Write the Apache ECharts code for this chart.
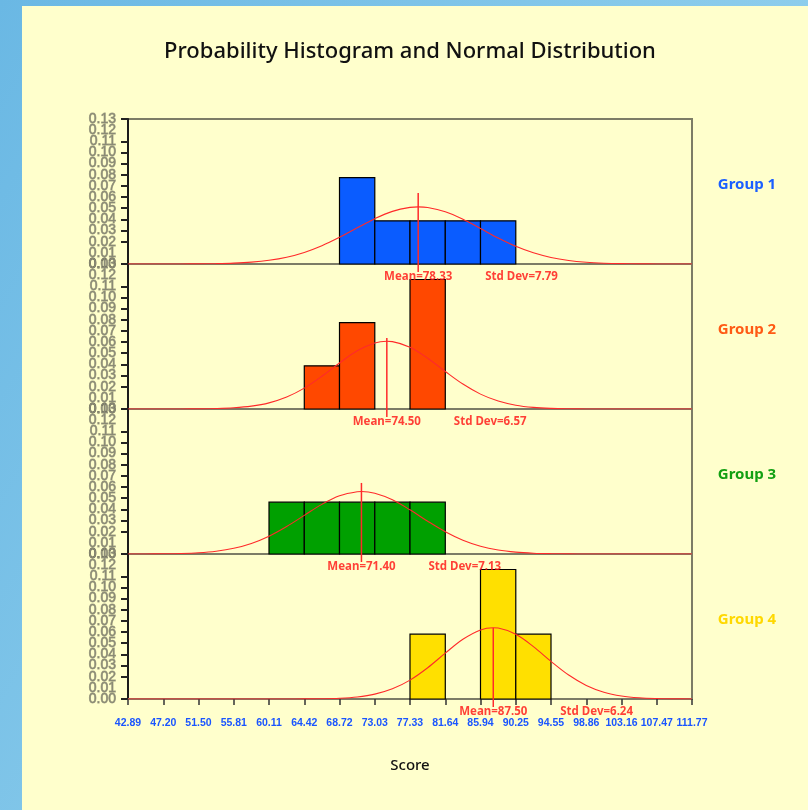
<!DOCTYPE html>
<html>
<head>
<meta charset="utf-8">
<script src="https://cdn.jsdelivr.net/npm/echarts@6/dist/echarts.min.js"></script>
<style>
html,body{margin:0;padding:0;width:808px;height:810px;overflow:hidden;}
body{background:linear-gradient(120deg,#6ab8e4 0%,#86c9ea 50%,#9ed6f1 100%);}
#panel{position:absolute;left:22px;top:6px;width:786px;height:804px;background:#ffffcc;}
#chart{position:absolute;left:0;top:0;width:808px;height:810px;}
</style>
</head>
<body>
<div id="panel"></div>
<div id="chart"></div>
<script>
// ---- data ----
const titleText = 'Probability Histogram and Normal Distribution';
const xName = 'Score';
const groups = ['Group 1', 'Group 2', 'Group 3', 'Group 4'];
const tickValues = [42.89, 47.20, 51.50, 55.81, 60.11, 64.42, 68.72, 73.03, 77.33, 81.64, 85.94, 90.25, 94.55, 98.86, 103.16, 107.47, 111.77];
const means = [78.33, 74.50, 71.40, 87.50];
const stdDevs = [7.79, 6.57, 7.13, 6.24];
// histogram densities per bin (bin j spans tickValues[j]..tickValues[j+1])
const bins1 = [0, 0, 0, 0, 0, 0, 0.0774, 0.0387, 0.0387, 0.0387, 0.0387, 0, 0, 0, 0, 0];
const bins2 = [0, 0, 0, 0, 0, 0.0387, 0.0774, 0, 0.1161, 0, 0, 0, 0, 0, 0, 0];
const bins3 = [0, 0, 0, 0, 0.0465, 0.0465, 0.0465, 0.0465, 0.0465, 0, 0, 0, 0, 0, 0, 0];
const bins4 = [0, 0, 0, 0, 0, 0, 0, 0, 0.0581, 0, 0.1161, 0.0581, 0, 0, 0, 0];
// normal curve samples (x positions shared, y read per group)
const curveX = [42.89, 45.04, 47.20, 49.35, 51.50, 53.65, 55.81, 57.96, 60.11, 62.27, 64.42, 66.57, 68.72, 70.88, 73.03, 75.18, 77.33, 79.49, 81.64, 83.79, 85.94, 88.10, 90.25, 92.40, 94.55, 96.71, 98.86, 101.01, 103.16, 105.32, 107.47, 109.62, 111.77];
const curve1 = [0.000002, 0.000006, 0.000017, 0.000051, 0.000136, 0.000339, 0.000784, 0.001676, 0.003324, 0.006115, 0.0104, 0.01638, 0.02393, 0.03243, 0.04063, 0.04719, 0.05079, 0.05065, 0.04679, 0.04006, 0.03178, 0.02333, 0.01589, 0.01002, 0.005863, 0.00317, 0.001591, 0.000739, 0.000318, 0.000127, 0.000047, 0.000016, 0.000005];
const curve2 = [0, 0.000003, 0.000011, 0.00004, 0.000132, 0.000395, 0.001061, 0.002556, 0.00552, 0.01073, 0.01871, 0.02931, 0.04123, 0.05217, 0.05922, 0.0604, 0.05534, 0.04551, 0.03364, 0.02235, 0.01334, 0.00713, 0.00343, 0.001483, 0.000577, 0.0002, 0.000063, 0.000018, 0.000005, 0, 0, 0, 0];
const curve3 = [0.000019, 0.00006, 0.000176, 0.000468, 0.001138, 0.002526, 0.005124, 0.009466, 0.01598, 0.02465, 0.03465, 0.04448, 0.05213, 0.0558, 0.05451, 0.04862, 0.03959, 0.0294, 0.01995, 0.01237, 0.006995, 0.003605, 0.001698, 0.000731, 0.000288, 0.000103, 0.000034, 0.00001, 0, 0, 0, 0, 0];
const curve4 = [0, 0, 0, 0, 0, 0, 0, 0, 0.000004, 0.000018, 0.000068, 0.00023, 0.00069, 0.001842, 0.004343, 0.009104, 0.01694, 0.02805, 0.04113, 0.05357, 0.06196, 0.06364, 0.05802, 0.04697, 0.03377, 0.02151, 0.01219, 0.006131, 0.002743, 0.001083, 0.000382, 0.00012, 0.000033];
const peaks = [0.0512, 0.0607, 0.0560, 0.0639];
const yTickValues = [0.00, 0.01, 0.02, 0.03, 0.04, 0.05, 0.06, 0.07, 0.08, 0.09, 0.10, 0.11, 0.12, 0.13];

// ---- styling ----
const binsAll = [bins1, bins2, bins3, bins4];
const curvesAll = [curve1, curve2, curve3, curve4];
const barColors = ['#0a5cff', '#ff4800', '#00a000', '#ffe000'];
const labelColors = ['#1a5fff', '#ff5a14', '#12a012', '#ffd800'];
const gridLeft = 128, gridWidth = 564, gridTop0 = 119, gridH = 145;
const NARROW = '"Liberation Sans Narrow","Arial Narrow","Liberation Sans",sans-serif';
const yMin = yTickValues[0], yMax = yTickValues[yTickValues.length - 1];
const yLabelStyle = {margin: 12, color: '#8a8a76', fontSize: 14, fontFamily: NARROW,
  textBorderColor: 'rgba(50,50,40,0.45)', textBorderWidth: 0.8};

const chart = echarts.init(document.getElementById('chart'), null, {renderer: 'canvas'});

const grids = [], xAxes = [], yAxes = [], series = [], graphics = [];
groups.forEach((g, i) => {
  const last = i === groups.length - 1;
  grids.push({left: gridLeft, top: gridTop0 + i * gridH, width: gridWidth, height: gridH,
    show: true, borderColor: '#7c7c66', borderWidth: 2, backgroundColor: 'transparent', containLabel: false});
  xAxes.push({
    type: 'value', gridIndex: i, min: tickValues[0], max: tickValues[tickValues.length - 1],
    axisLine: {show: last, onZero: false, lineStyle: {color: '#7c7c66', width: 2}},
    axisTick: {show: last, customValues: tickValues, length: 6, lineStyle: {color: '#333', width: 1.5}},
    axisLabel: {show: last, customValues: tickValues, margin: 19, showMinLabel: true, showMaxLabel: true,
      formatter: v => v.toFixed(2), color: '#1a55ff', fontWeight: 'bold', fontSize: 10.5, fontFamily: NARROW},
    splitLine: {show: false}
  });
  const yIdx = yAxes.length;
  // main y axis: line, ticks, and most labels (incl. 0.00 and 0.13)
  yAxes.push({
    type: 'value', gridIndex: i, position: 'left', min: yMin, max: yMax, interval: 0.01,
    axisLine: {show: true, onZero: false, lineStyle: {color: '#1a1a1a', width: 2}},
    axisTick: {show: true, length: 7, lineStyle: {color: '#222', width: 2}},
    axisLabel: Object.assign({show: true, showMinLabel: true, showMaxLabel: true,
      formatter: v => v.toFixed(2)}, yLabelStyle),
    splitLine: {show: false}
  });
  // companion axis (same place) to show the labels next to min/max that ECharts hides
  yAxes.push({
    type: 'value', gridIndex: i, position: 'left', offset: 0, min: yMin, max: yMax, interval: 0.01,
    axisLine: {show: false}, axisTick: {show: false}, splitLine: {show: false},
    axisLabel: Object.assign({show: true, showMinLabel: false, showMaxLabel: false,
      formatter: v => (Math.abs(v - yTickValues[1]) < 1e-6 || Math.abs(v - yTickValues[yTickValues.length - 2]) < 1e-6) ? v.toFixed(2) : ''},
      yLabelStyle)
  });
  // histogram bars
  const barData = [];
  binsAll[i].forEach((v, j) => { if (v > 0) barData.push([tickValues[j], tickValues[j + 1], v]); });
  series.push({
    type: 'custom', xAxisIndex: i, yAxisIndex: yIdx, z: 2,
    data: barData, encode: {x: [0, 1], y: 2},
    renderItem: (params, api) => {
      const p0 = api.coord([api.value(0), api.value(2)]);
      const p1 = api.coord([api.value(1), 0]);
      return {type: 'rect', shape: {x: p0[0], y: p0[1], width: p1[0] - p0[0], height: p1[1] - p0[1]},
        style: {fill: barColors[i], stroke: '#000', lineWidth: 1.2}};
    }
  });
  // normal curve
  const pts = curveX.map((x, k) => [x, curvesAll[i][k]]);
  pts.push([means[i], peaks[i]]);
  pts.sort((a, b) => a[0] - b[0]);
  series.push({
    type: 'line', xAxisIndex: i, yAxisIndex: yIdx, z: 3, data: pts, smooth: 0.35,
    showSymbol: false, symbol: 'none', lineStyle: {color: '#ff2a2a', width: 1.1}, silent: true
  });
  // mean line
  series.push({
    type: 'line', xAxisIndex: i, yAxisIndex: yIdx, z: 4, clip: false,
    data: [[means[i], 0.0637], [means[i], -0.0072]],
    showSymbol: false, symbol: 'none', lineStyle: {color: '#ff2a2a', width: 1.5}, silent: true
  });
  // labels
  series.push({
    type: 'scatter', xAxisIndex: i, yAxisIndex: yIdx, z: 5, clip: false, symbolSize: 1,
    itemStyle: {color: 'rgba(0,0,0,0)'}, silent: true,
    data: [
      {value: [means[i], 0], label: {show: true, position: 'bottom', distance: 6,
        formatter: 'Mean=' + means[i].toFixed(2)}},
      {value: [means[i], 0], label: {show: true, position: 'bottom', distance: 6, align: 'left', offset: [67, 0],
        formatter: 'Std Dev=' + stdDevs[i].toFixed(2)}}
    ],
    label: {color: '#ff1010', fontSize: 11.5, fontWeight: 'bold', fontFamily: '"Noto Sans",sans-serif'}
  });
  graphics.push({type: 'text', style: {text: g, x: 747, y: 185 + i * gridH, align: 'center', verticalAlign: 'middle',
    fill: labelColors[i], font: 'bold 15px "Noto Sans", sans-serif'}});
});

graphics.push({type: 'text', style: {text: titleText, x: 410, y: 52, align: 'center', verticalAlign: 'middle',
  fill: '#111', font: '500 22px "Noto Sans", sans-serif'}});
graphics.push({type: 'text', style: {text: xName, x: 410, y: 766, align: 'center', verticalAlign: 'middle',
  fill: '#111', font: '500 15px "Noto Sans", sans-serif'}});

chart.setOption({
  backgroundColor: 'transparent',
  animation: false,
  grid: grids, xAxis: xAxes, yAxis: yAxes, series: series, graphic: graphics
});
</script>
</body>
</html>
